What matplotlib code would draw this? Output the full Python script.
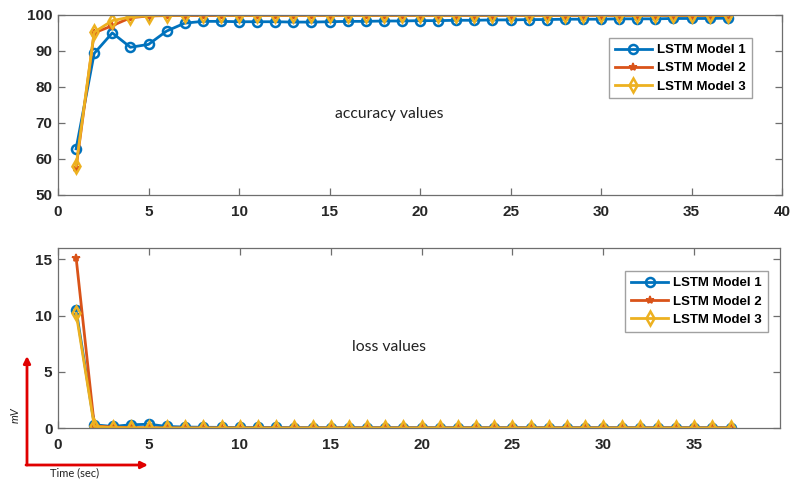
import numpy as np
import matplotlib.pyplot as plt

epochs = list(range(1, 38))

acc_m1 = [62.8, 89.3, 95.0, 91.0, 91.8, 95.5, 97.7, 98.2, 98.2, 98.1, 98.1, 98.1, 98.0,
          98.0, 98.1, 98.2, 98.2, 98.3, 98.3, 98.4, 98.4, 98.5, 98.5, 98.6, 98.6, 98.7,
          98.7, 98.8, 98.8, 98.8, 98.9, 98.9, 98.9, 99.0, 99.0, 99.0, 99.1]
acc_m2 = [57.5, 95.0, 97.0, 99.2, 99.7, 99.8, 99.8, 99.8, 99.8, 99.8, 99.8, 99.8, 99.8,
          99.8, 99.8, 99.8, 99.8, 99.8, 99.8, 99.8, 99.8, 99.8, 99.8, 99.8, 99.8, 99.8,
          99.8, 99.8, 99.8, 99.8, 99.8, 99.8, 99.8, 99.8, 99.8, 99.8, 99.8]
acc_m3 = [58.0, 95.2, 98.4, 99.4, 99.8, 99.9, 99.9, 100.0, 99.9, 99.9, 99.9, 99.9, 99.9,
          99.9, 99.9, 99.9, 99.9, 99.9, 99.9, 99.9, 99.9, 99.9, 99.9, 99.9, 99.9, 99.9,
          99.9, 99.9, 99.9, 99.9, 99.9, 99.9, 99.9, 99.9, 99.9, 99.9, 99.9]

loss_m1 = [10.5, 0.30, 0.15, 0.30, 0.35, 0.15, 0.10, 0.08, 0.07, 0.06, 0.06, 0.06, 0.05,
           0.05, 0.05, 0.05, 0.05, 0.05, 0.05, 0.05, 0.05, 0.05, 0.05, 0.05, 0.05, 0.05,
           0.05, 0.05, 0.05, 0.05, 0.05, 0.05, 0.05, 0.05, 0.05, 0.05, 0.05]
loss_m2 = [15.1, 0.20, 0.10, 0.05, 0.03, 0.02, 0.02, 0.02, 0.02, 0.02, 0.02, 0.02, 0.02,
           0.02, 0.02, 0.02, 0.02, 0.02, 0.02, 0.02, 0.02, 0.02, 0.02, 0.02, 0.02, 0.02,
           0.02, 0.02, 0.02, 0.02, 0.02, 0.02, 0.02, 0.02, 0.02, 0.02, 0.02]
loss_m3 = [10.2, 0.15, 0.05, 0.03, 0.02, 0.01, 0.01, 0.01, 0.01, 0.01, 0.01, 0.01, 0.01,
           0.01, 0.01, 0.01, 0.01, 0.01, 0.01, 0.01, 0.01, 0.01, 0.01, 0.01, 0.01, 0.01,
           0.01, 0.01, 0.01, 0.01, 0.01, 0.01, 0.01, 0.01, 0.01, 0.01, 0.01]

labels = ["LSTM Model 1", "LSTM Model 2", "LSTM Model 3"]
colors = ["#0072BD", "#D95319", "#EDB120"]

plt.rcParams['font.family'] = ['Liberation Sans', 'DejaVu Sans']


def draw(ax, series):
    styles = [dict(marker='o', ms=6.5, mfc='none', mew=1.8),
              dict(marker='*', ms=6, mew=1.2),
              dict(marker='d', ms=7, mfc='none', mew=1.8)]
    for ys, c, lab, st in zip(series, colors, labels, styles):
        ax.plot(epochs, ys, color=c, lw=2, label=lab, mec=c, **st)


def style(ax):
    for s in ax.spines.values():
        s.set_color('#6e6e6e')
        s.set_linewidth(0.9)
    ax.tick_params(direction='in', length=5, width=0.9, color='#6e6e6e',
                   top=True, right=True, labelsize=11, labelcolor='#262626', pad=4)
    ax.tick_params(axis='x', pad=7)
    for t in ax.get_xticklabels() + ax.get_yticklabels():
        t.set_fontweight('bold')


def add_legend(ax, anchor):
    ax.legend(loc='upper right', bbox_to_anchor=anchor, frameon=True,
              fancybox=False, edgecolor='#8a8a8a', prop=dict(weight='bold', size=9.5),
              handlelength=2.8, borderpad=0.45, labelspacing=0.45, handletextpad=0.4)


fig = plt.figure(figsize=(7.9, 4.8), dpi=100)
ax1 = fig.add_axes([0.0734, 0.594, 0.9166, 0.375])
ax2 = fig.add_axes([0.0734, 0.108, 0.9136, 0.375])

draw(ax1, [acc_m1, acc_m2, acc_m3])
ax1.set_xlim(0, 40)
ax1.set_ylim(50, 100)
ax1.set_xticks(range(0, 41, 5))
ax1.set_yticks(range(50, 101, 10))
style(ax1)
add_legend(ax1, (0.967, 0.908))
ax1.text(0.458, 0.45, "accuracy values", transform=ax1.transAxes, ha='center',
         va='center', fontsize=11.3, family=['Lato', 'DejaVu Sans'], color='#222222')

draw(ax2, [loss_m1, loss_m2, loss_m3])
ax2.set_xlim(0, 39.7)
ax2.set_ylim(0, 16)
ax2.set_xticks(range(0, 36, 5))
ax2.set_yticks([0, 5, 10, 15])
style(ax2)
add_legend(ax2, (0.993, 0.908))
ax2.text(0.458, 0.45, "loss values", transform=ax2.transAxes, ha='center',
         va='center', fontsize=11.3, family=['Lato', 'DejaVu Sans'], color='#222222')

# red unit arrows in the lower-left corner
arrow = dict(arrowstyle='-|>', color='#e00000', lw=2, mutation_scale=10,
             shrinkA=0, shrinkB=0)
fig.add_artist(plt.matplotlib.patches.FancyArrowPatch(
    (27 / 790, 1 - 465 / 480), (27 / 790, 1 - 356 / 480),
    transform=fig.transFigure, **arrow))
fig.add_artist(plt.matplotlib.patches.FancyArrowPatch(
    (26 / 790, 1 - 465 / 480), (148 / 790, 1 - 465 / 480),
    transform=fig.transFigure, **arrow))
fig.text(15 / 790, 1 - 415 / 480, "mV", rotation=90, style='italic', fontsize=8,
         ha='center', va='center', family=['Lato', 'DejaVu Sans'], color='#222222')
fig.text(75 / 790, 1 - 473 / 480, "Time (sec)", fontsize=8, ha='center', va='center',
         family=['Lato', 'DejaVu Sans'], color='#222222')

fig.savefig("out.png", dpi=100)
